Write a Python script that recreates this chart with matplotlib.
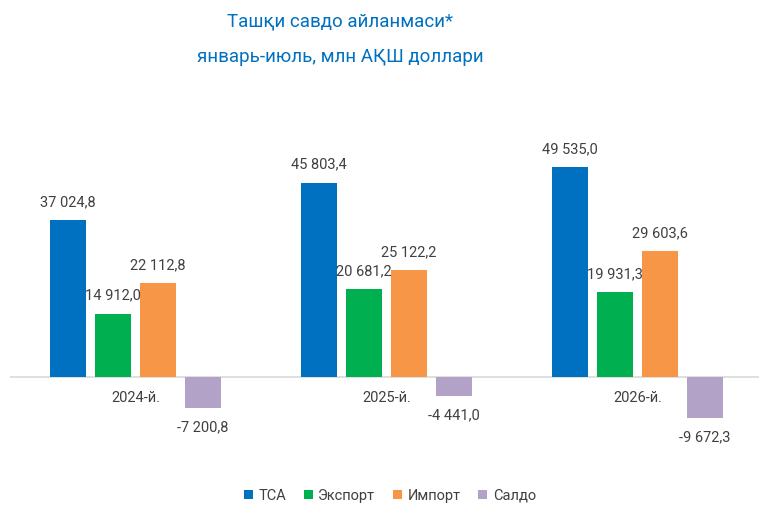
import matplotlib.pyplot as plt
import numpy as np

plt.rcParams['font.family'] = ['Roboto', 'DejaVu Sans']

years = ['2024-й.', '2025-й.', '2026-й.']
series_names = ['ТСА', 'Экспорт', 'Импорт', 'Салдо']
tsa = [37024.8, 45803.4, 49535.0]
export = [14912.0, 20681.2, 19931.3]
imports = [22112.8, 25122.2, 29603.6]
saldo = [-7200.8, -4441.0, -9672.3]
colors = ['#0070C0', '#00B050', '#F79646', '#B3A2C7']


def fmt(v):
    s = '{:,.1f}'.format(v).replace(',', ' ').replace('.', ',')
    return s


fig = plt.figure(figsize=(7.59, 5.13), dpi=100)
# zero line at y=377px, 0.00424 px per unit
ymin, ymax = -14000, 60000
bottom_px = 377 + 14000 * 0.00424
top_px = 377 - 60000 * 0.00424
ax = fig.add_axes([10 / 759, 1 - bottom_px / 513, 753 / 759, (bottom_px - top_px) / 513])

x = np.arange(len(years))
step = 0.179
width = 0.143
all_series = [tsa, export, imports, saldo]
for i, vals in enumerate(all_series):
    pos = x + (i - 1.5) * step
    ax.bar(pos, vals, width, color=colors[i], label=series_names[i], zorder=2)
    for p, v in zip(pos, vals):
        if v >= 0:
            ax.annotate(fmt(v), (p, v), xytext=(0, 8), textcoords='offset points',
                        ha='center', va='bottom', fontsize=10.5, color='#404040')
        else:
            ax.annotate(fmt(v), (p, v), xytext=(0, -9), textcoords='offset points',
                        ha='center', va='top', fontsize=10.5, color='#404040')

for xi, yl in zip(x, years):
    ax.text(xi, -3200, yl, ha='center', va='top', fontsize=10.5, color='#404040')

ax.axhline(0, color='#D9D9D9', linewidth=1.2, zorder=1)
ax.set_xlim(-0.5, 2.5)
ax.set_ylim(ymin, ymax)
ax.axis('off')

fig.text(340 / 759, 1 - 22 / 513, 'Ташқи савдо айланмаси*', ha='center', va='center',
         fontsize=13.5, color='#0070C0')
fig.text(340 / 759, 1 - 57 / 513, 'январь-июль, млн АҚШ доллари', ha='center', va='center',
         fontsize=13.5, color='#0070C0')

fig.legend(loc='center', bbox_to_anchor=(390 / 759, 1 - 496 / 513), ncol=4, frameon=False,
           fontsize=10.5, handlelength=0.6, handleheight=0.6, handletextpad=0.4,
           columnspacing=1.2, labelcolor='#404040')

fig.savefig('out.png', dpi=100)
